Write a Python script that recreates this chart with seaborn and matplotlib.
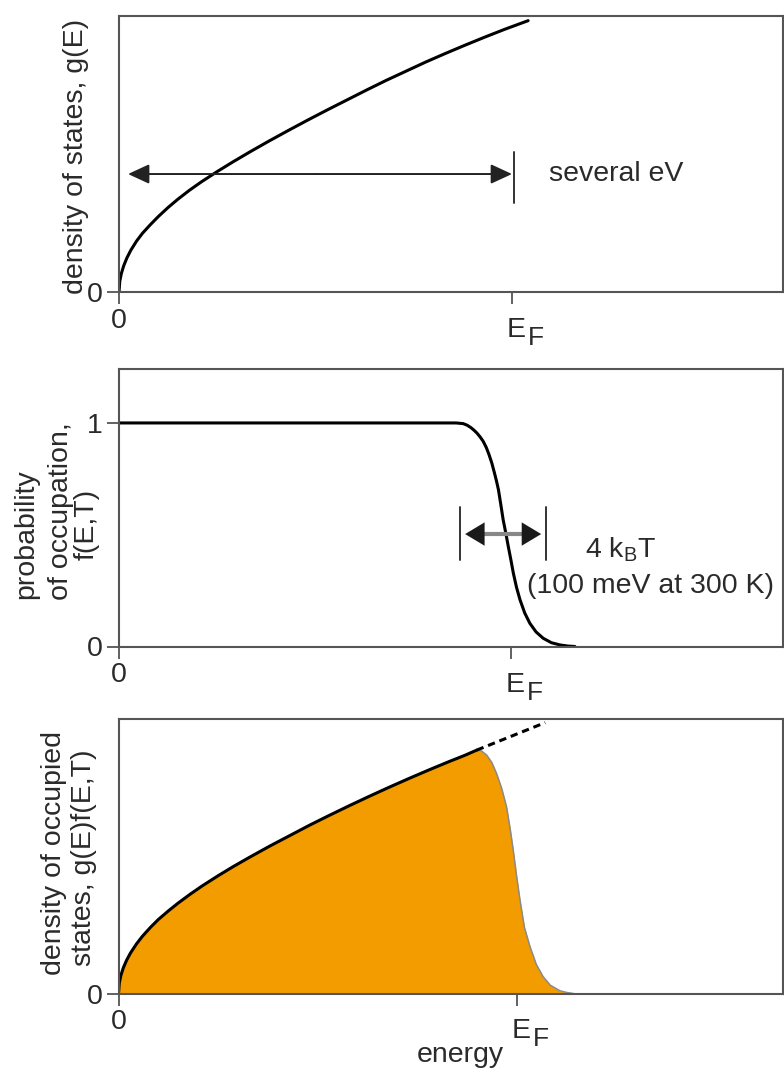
import matplotlib
matplotlib.use("Agg")
import matplotlib.pyplot as plt
import seaborn as sns

# ---------------- data ----------------
# panel 1: density of states g(E)  (energy in units of E_F)
dos_energy = [0.000, 0.002, 0.006, 0.012, 0.020, 0.030, 0.045, 0.060, 0.080,
              0.100, 0.125, 0.150, 0.180, 0.210, 0.250, 0.290, 0.333, 0.380,
              0.430, 0.480, 0.530, 0.580, 0.630, 0.680, 0.730, 0.780, 0.830,
              0.880, 0.930, 0.980, 1.041]
dos_value = [0.000, 0.039, 0.067, 0.095, 0.123, 0.151, 0.185, 0.213, 0.244,
             0.273, 0.306, 0.336, 0.369, 0.399, 0.436, 0.471, 0.507, 0.545,
             0.584, 0.622, 0.659, 0.695, 0.731, 0.766, 0.799, 0.832, 0.863,
             0.893, 0.922, 0.950, 0.982]

# panel 2: occupation probability f(E,T)
fermi_energy = [0.000, 0.860, 0.878, 0.888, 0.897, 0.904, 0.913, 0.921, 0.929,
                0.937, 0.944, 0.951, 0.958, 0.963, 0.968, 0.974, 0.980, 0.987,
                0.993, 1.000, 1.006, 1.014, 1.023, 1.035, 1.048, 1.064, 1.082,
                1.103, 1.125, 1.145, 1.163]
fermi_value = [1.000, 1.000, 0.997, 0.990, 0.980, 0.970, 0.955, 0.938, 0.918,
               0.890, 0.858, 0.821, 0.775, 0.740, 0.701, 0.635, 0.567, 0.505,
               0.448, 0.385, 0.328, 0.265, 0.209, 0.150, 0.104, 0.065, 0.037,
               0.017, 0.007, 0.002, 0.000]

# panel 3: density of occupied states g(E)f(E,T)
occ_energy = [0.000, 0.002, 0.006, 0.012, 0.020, 0.030, 0.045, 0.060, 0.080,
              0.100, 0.125, 0.150, 0.180, 0.210, 0.250, 0.290, 0.330, 0.380,
              0.430, 0.480, 0.530, 0.580, 0.630, 0.680, 0.730, 0.780, 0.830,
              0.870, 0.900,
              0.912, 0.925, 0.938, 0.950, 0.963, 0.975, 0.984, 0.992, 1.000,
              1.009, 1.020, 1.034, 1.050, 1.067, 1.085, 1.109, 1.125, 1.143]
occ_value = [0.000, 0.038, 0.066, 0.093, 0.120, 0.147, 0.180, 0.208, 0.240,
             0.269, 0.300, 0.329, 0.361, 0.391, 0.428, 0.463, 0.496, 0.536,
             0.574, 0.612, 0.648, 0.683, 0.717, 0.750, 0.782, 0.813, 0.843,
             0.866, 0.885,
             0.882, 0.867, 0.840, 0.800, 0.745, 0.679, 0.600, 0.520, 0.430,
             0.338, 0.240, 0.170, 0.105, 0.061, 0.030, 0.010, 0.004, 0.000]
peak_index = 28
dashed_energy = [0.900, 1.072]
dashed_value = [0.885, 0.985]

x_ticks = [0, 1]
x_tick_labels = ["0", ""]

# ---------------- style ----------------
sns.set_theme(style="white")
plt.rcParams["font.family"] = ["Liberation Sans", "DejaVu Sans"]

TXT = "#2a2a2a"
SPINE = "#555555"
FS = 20.5
W, H = 784, 1076
PX = 0.72  # points per pixel at dpi 100

fig = plt.figure(figsize=(W / 100, H / 100), dpi=100)


def add_ax(left, right, top, bottom):
    return fig.add_axes([left / W, 1 - bottom / H, (right - left) / W, (bottom - top) / H])


def style(ax):
    for s in ax.spines.values():
        s.set_visible(True)
        s.set_color(SPINE)
        s.set_linewidth(1.5)
    ax.tick_params(direction="out", length=8.5, width=1.3, color=SPINE,
                   labelsize=FS, labelcolor=TXT, pad=3,
                   bottom=True, left=True, top=False, right=False)
    ax.set_xlabel("")
    ax.set_ylabel("")


def fermi_label(ax):
    ax.annotate("E", xy=(1, 0), xycoords=("data", "axes fraction"),
                xytext=(-5 * PX, -45 * PX), textcoords="offset points",
                ha="left", va="baseline", fontsize=FS, color=TXT)
    ax.annotate("F", xy=(1, 0), xycoords=("data", "axes fraction"),
                xytext=(16 * PX, -53 * PX), textcoords="offset points",
                ha="left", va="baseline", fontsize=FS * 0.93, color=TXT)


def ftext(x, y, s, **kw):
    fig.text(x / W, 1 - y / H, s, color=TXT, fontsize=FS, **kw)


# ---------------- panel 1 ----------------
ax1 = add_ax(119, 783, 15.7, 292)
sns.lineplot(x=dos_energy, y=dos_value, ax=ax1, color="black", lw=2.2,
             sort=False, estimator=None)
ax1.set_xlim(0, 664 / 393)
ax1.set_ylim(0, 1)
ax1.set_xticks(x_ticks, x_tick_labels)
ax1.set_yticks([0], ["0"])
style(ax1)
fermi_label(ax1)
for tip, tail in ((0.023, 0.5), (1.0, 0.5)):
    ax1.annotate("", xy=(tip, 0.427), xytext=(tail, 0.427),
                 arrowprops=dict(arrowstyle="-|>,head_length=0.65,head_width=0.3",
                                 color="#222222", lw=1.4, mutation_scale=20,
                                 shrinkA=0, shrinkB=0))
ax1.plot([1.005, 1.005], [0.322, 0.507], color="#333333", lw=1.4)
ax1.text(1.095, 0.427, "several eV", color=TXT, fontsize=FS, ha="left", va="center")
ftext(76, 156, "density of states, g(E)", rotation=90, ha="center", va="center")

# ---------------- panel 2 ----------------
ax2 = add_ax(119, 783, 369.3, 646.5)
sns.lineplot(x=fermi_energy, y=fermi_value, ax=ax2, color="black", lw=2.2,
             sort=False, estimator=None)
ax2.set_xlim(0, 664 / 392)
ax2.set_ylim(0, 1.24)
ax2.set_xticks(x_ticks, x_tick_labels)
ax2.set_yticks([0, 1], ["0", "1"])
style(ax2)
fermi_label(ax2)
for xb in (0.870, 1.089):
    ax2.plot([xb, xb], [0.387, 0.624], color="#333333", lw=1.4)
ax2.plot([0.90, 1.06], [0.503, 0.503], color="#888888", lw=3)
for tip in (0.883, 1.077):
    ax2.annotate("", xy=(tip, 0.503), xytext=(0.98, 0.503),
                 arrowprops=dict(arrowstyle="-|>,head_length=0.7,head_width=0.42",
                                 color="#1a1a1a", lw=0.01, mutation_scale=20,
                                 shrinkA=0, shrinkB=0))
fig.text(585 / W, 1 - 557 / H, r"4 k$_\mathregular{B}$T", color=TXT, fontsize=FS,
         ha="left", va="baseline")
ftext(527, 593, "(100 meV at 300 K)", ha="left", va="baseline")
ftext(26, 534, "probability", rotation=90, ha="center", va="center")
ftext(61, 511, "of occupation,", rotation=90, ha="center", va="center")
ftext(87, 524, "f(E,T)", rotation=90, ha="center", va="center")

# ---------------- panel 3 ----------------
ax3 = add_ax(118.5, 783, 718.5, 993.5)
ax3.fill_between(occ_energy, occ_value, 0, color="#F39C00", lw=0, zorder=1)
sns.lineplot(x=occ_energy[peak_index:], y=occ_value[peak_index:], ax=ax3,
             color="#8a8a8a", lw=1.1, sort=False, estimator=None)
sns.lineplot(x=occ_energy[:peak_index + 1], y=occ_value[:peak_index + 1], ax=ax3,
             color="black", lw=2.2, sort=False, estimator=None)
sns.lineplot(x=dashed_energy, y=dashed_value, ax=ax3, color="black", lw=2.2,
             sort=False, estimator=None, linestyle=(0, (2.4, 1.6)))
ax3.set_xlim(0, 664.5 / 398)
ax3.set_ylim(0, 1)
ax3.set_xticks(x_ticks, x_tick_labels)
ax3.set_yticks([0], ["0"])
style(ax3)
fermi_label(ax3)
ax3.set_xlabel("energy", fontsize=FS, color=TXT)
ax3.xaxis.set_label_coords((460 - 118.5) / 664.5, (993.5 - 1042) / 275)
ftext(54, 853, "density of occupied", rotation=90, ha="center", va="center")
ftext(84, 858, "states, g(E)f(E,T)", rotation=90, ha="center", va="center")

fig.savefig("out.png", dpi=100)
